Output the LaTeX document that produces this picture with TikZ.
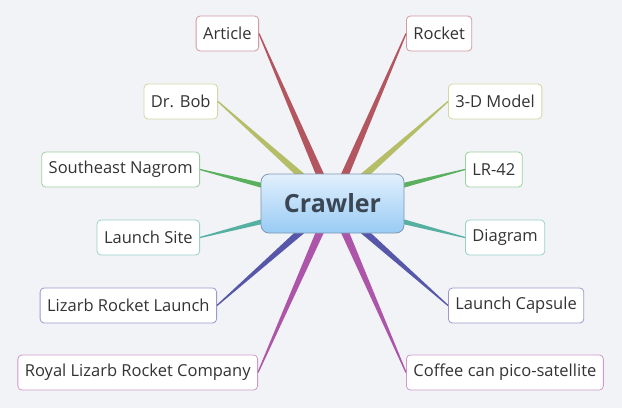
\documentclass[tikz,border=0pt]{standalone}
\usepackage{fontspec}
\setmainfont{Open Sans}
\usetikzlibrary{calc}
\definecolor{bg}{HTML}{F2F3F7}
\definecolor{ink}{HTML}{333333}
\definecolor{rootink}{HTML}{3A4654}
\definecolor{roottop}{HTML}{E2F0FD}
\definecolor{rootbot}{HTML}{98CBF4}
\definecolor{rootline}{HTML}{7D98B2}
\definecolor{cred}{HTML}{B3565F}
\definecolor{colive}{HTML}{B5BD66}
\definecolor{cgreen}{HTML}{5BB060}
\definecolor{cteal}{HTML}{55B0A2}
\definecolor{cindigo}{HTML}{5757AA}
\definecolor{cmagenta}{HTML}{AD55A8}
\tikzset{
  topic/.style={draw=#1!60, fill=white, rounded corners=4pt, line width=0.8pt,
    minimum height=35pt, inner xsep=7pt, text=ink, font=\fontsize{16.5}{16.5}\selectfont},
  root/.style={draw=rootline, rounded corners=8pt, line width=0.8pt,
    top color=roottop, bottom color=rootbot, minimum width=143pt,
    minimum height=59pt, text=rootink, font=\fontsize{25}{25}\selectfont\bfseries},
}
% tapered branch from a topic to the root
\newcommand{\branch}[3]{%
  \fill[#3] ($(#1)!0.6pt!90:(#2)$) -- ($(#2)!4.5pt!-90:(#1)$)
    -- ($(#2)!4.5pt!90:(#1)$) -- ($(#1)!0.6pt!-90:(#2)$) -- cycle;
}

\begin{document}
\begin{tikzpicture}[x=1pt,y=-1pt]
  \fill[bg] (0,0) rectangle (622,408);
  \useasboundingbox (0,0) rectangle (622,408);

  \coordinate (c) at (332.5,203.5);

  % left topics
  \node[topic=cred, anchor=east] (article) at (259,33.5) {Article};
  \node[topic=colive, anchor=east] (bob) at (218,101.5) {Dr. Bob};
  \node[topic=cgreen, anchor=east] (nagrom) at (200,169.5) {Southeast Nagrom};
  \node[topic=cteal, anchor=east] (site) at (200,237.5) {Launch Site};
  \node[topic=cindigo, anchor=east] (launch) at (217,305.5) {Lizarb Rocket Launch};
  \node[topic=cmagenta, anchor=east] (company) at (258,372.5) {Royal Lizarb Rocket Company};

  % right topics
  \node[topic=cred, anchor=west] (rocket) at (406,33.5) {Rocket};
  \node[topic=colive, anchor=west] (model) at (448,101.5) {3-D Model};
  \node[topic=cgreen, anchor=west] (lr) at (465,169.5) {LR-42};
  \node[topic=cteal, anchor=west] (diagram) at (465,237.5) {Diagram};
  \node[topic=cindigo, anchor=west] (capsule) at (448,305.5) {Launch Capsule};
  \node[topic=cmagenta, anchor=west] (coffee) at (406,372.5) {Coffee can pico-satellite};

  \branch{article.east}{c}{cred}
  \branch{bob.east}{c}{colive}
  \branch{nagrom.east}{c}{cgreen}
  \branch{site.east}{c}{cteal}
  \branch{launch.east}{c}{cindigo}
  \branch{company.east}{c}{cmagenta}
  \branch{rocket.west}{c}{cred}
  \branch{model.west}{c}{colive}
  \branch{lr.west}{c}{cgreen}
  \branch{diagram.west}{c}{cteal}
  \branch{capsule.west}{c}{cindigo}
  \branch{coffee.west}{c}{cmagenta}

  \node[root] (crawler) at (c) {Crawler};
\end{tikzpicture}
\end{document}
